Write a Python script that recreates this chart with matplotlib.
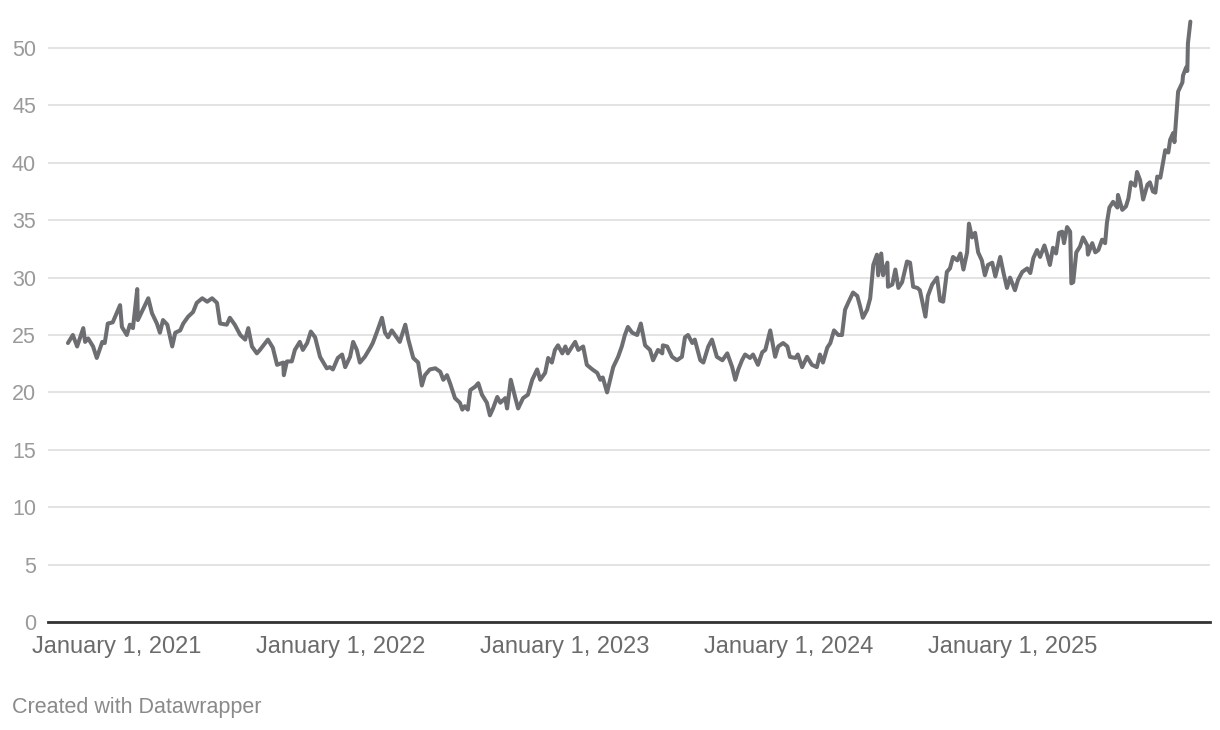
import matplotlib
matplotlib.use("Agg")
import matplotlib.pyplot as plt
import pandas as pd
from matplotlib.transforms import Bbox, TransformedBbox

# ---- data ----
base_date = "2021-01-01"
day_offsets = [
    -80, -72, -65, -55, -52, -47, -39, -33, -24, -20, -15, -7, 5, 8, 16, 21, 26, 33, 34, 42,
    51, 57, 65, 70, 75, 82, 90, 95, 103, 108, 116, 124, 130, 139, 147, 155, 163, 168, 179, 184,
    192, 201, 209, 214, 220, 228, 233, 246, 254, 261, 271, 272, 277, 285, 290, 298, 303, 310, 316, 323,
    331, 342, 347, 352, 360, 367, 372, 380, 385, 391, 396, 404, 413, 417, 424, 432, 437, 442, 448, 457,
    461, 470, 475, 483, 491, 497, 502, 510, 519, 527, 532, 538, 543, 551, 559, 563, 567, 572, 576, 584,
    589, 595, 603, 608, 613, 620, 625, 633, 636, 642, 649, 654, 662, 670, 677, 685, 690, 698, 703, 709,
    714, 719, 726, 731, 735, 742, 747, 752, 760, 766, 775, 783, 788, 792, 799, 804, 809, 817, 823, 828,
    833, 840, 848, 854, 861, 869, 874, 882, 889, 890, 897, 905, 913, 921, 926, 931, 938, 942, 951, 956,
    964, 970, 978, 987, 995, 1003, 1008, 1013, 1019, 1024, 1032, 1037, 1045, 1052, 1057, 1065, 1073, 1078, 1086, 1093,
    1097, 1106, 1110, 1117, 1125, 1133, 1141, 1146, 1151, 1158, 1163, 1169, 1176, 1182, 1187, 1192, 1200, 1207, 1212, 1216,
    1223, 1228, 1233, 1239, 1241, 1246, 1249, 1256, 1257, 1264, 1269, 1274, 1280, 1288, 1293, 1298, 1305, 1309, 1313, 1318,
    1322, 1329, 1337, 1342, 1347, 1353, 1358, 1363, 1370, 1375, 1380, 1386, 1389, 1394, 1399, 1404, 1410, 1415, 1420, 1427,
    1432, 1440, 1445, 1451, 1456, 1464, 1469, 1476, 1484, 1489, 1494, 1500, 1505, 1512, 1516, 1521, 1526, 1531, 1536, 1541,
    1544, 1549, 1554, 1556, 1559, 1564, 1570, 1575, 1582, 1583, 1590, 1595, 1600, 1606, 1611, 1614, 1618, 1624, 1631, 1632,
    1639, 1645, 1649, 1653, 1660, 1663, 1668, 1673, 1680, 1684, 1689, 1693, 1696, 1701, 1706, 1709, 1714, 1717, 1722, 1724,
    1727, 1730, 1737, 1738, 1743, 1745, 1746, 1750,
]
values = [
    24.3, 25.0, 24.0, 25.6, 24.4, 24.7, 24.0, 23.0, 24.4, 24.3, 26.0, 26.1, 27.6, 25.7, 25.0, 25.9, 25.6, 29.0, 26.3, 27.2,
    28.2, 26.9, 26.0, 25.2, 26.3, 25.9, 24.0, 25.2, 25.4, 26.0, 26.6, 27.0, 27.8, 28.2, 27.9, 28.2, 27.8, 26.0, 25.9, 26.5,
    25.9, 25.0, 24.6, 25.6, 24.0, 23.4, 23.7, 24.6, 23.9, 22.4, 22.6, 21.5, 22.7, 22.7, 23.7, 24.4, 23.7, 24.3, 25.3, 24.8,
    23.1, 22.1, 22.2, 22.0, 23.0, 23.3, 22.2, 23.1, 24.4, 23.7, 22.6, 23.1, 23.9, 24.3, 25.3, 26.5, 25.2, 24.8, 25.4, 24.7,
    24.4, 25.9, 24.6, 23.0, 22.6, 20.6, 21.5, 22.0, 22.1, 21.8, 21.1, 21.5, 20.8, 19.5, 19.1, 18.5, 18.8, 18.5, 20.2, 20.5,
    20.8, 19.8, 19.1, 18.0, 18.6, 19.6, 19.1, 19.5, 18.6, 21.1, 19.6, 18.6, 19.5, 19.8, 21.1, 22.0, 21.1, 21.7, 23.0, 22.6,
    23.7, 24.1, 23.4, 24.0, 23.4, 24.0, 24.4, 23.7, 24.0, 22.4, 22.0, 21.7, 21.1, 21.3, 20.0, 21.1, 22.2, 23.1, 24.0, 25.0,
    25.7, 25.2, 25.0, 26.0, 24.1, 23.7, 22.8, 23.7, 23.4, 24.1, 24.0, 23.1, 22.8, 23.1, 24.8, 25.0, 24.3, 24.6, 22.8, 22.6,
    24.0, 24.6, 23.1, 22.8, 23.4, 22.2, 21.1, 22.0, 22.8, 23.3, 23.0, 23.3, 22.4, 23.5, 23.7, 25.4, 23.1, 24.0, 24.3, 24.0,
    23.1, 23.0, 23.3, 22.2, 23.1, 22.4, 22.2, 23.3, 22.6, 23.9, 24.3, 25.4, 25.0, 25.0, 27.2, 27.8, 28.7, 28.4, 27.4, 26.5,
    27.2, 28.2, 31.1, 32.0, 30.2, 32.1, 30.2, 31.3, 29.2, 29.4, 30.7, 29.1, 29.6, 31.4, 31.3, 29.2, 29.1, 28.9, 27.9, 26.6,
    28.4, 29.4, 30.0, 28.0, 27.9, 30.5, 30.8, 31.8, 31.5, 32.1, 30.7, 32.2, 34.7, 33.5, 33.9, 32.2, 31.5, 30.2, 31.1, 31.3,
    30.1, 31.8, 30.5, 29.1, 30.0, 28.9, 29.8, 30.5, 30.8, 30.4, 31.7, 32.4, 31.8, 32.8, 32.1, 31.1, 32.6, 32.1, 33.9, 34.0,
    33.0, 34.4, 34.0, 29.5, 29.6, 32.2, 32.7, 33.5, 32.8, 32.0, 33.0, 32.2, 32.4, 33.3, 33.0, 34.8, 36.1, 36.6, 36.1, 37.2,
    35.9, 36.2, 36.9, 38.3, 38.0, 39.2, 38.5, 36.8, 38.1, 38.3, 37.5, 37.4, 38.8, 38.7, 40.2, 41.1, 40.9, 42.0, 42.6, 41.8,
    44.0, 46.2, 47.0, 47.6, 48.3, 48.0, 50.4, 52.3,
]
y_ticks = [0, 5, 10, 15, 20, 25, 30, 35, 40, 45, 50]
x_tick_dates = ["2021-01-01", "2022-01-01", "2023-01-01", "2024-01-01", "2025-01-01"]
x_tick_labels = ["January 1, 2021", "January 1, 2022", "January 1, 2023",
                 "January 1, 2024", "January 1, 2025"]
footer = "Created with Datawrapper"

# ---- figure ----
plt.rcParams["font.family"] = ["Liberation Sans", "DejaVu Sans"]
W, H = 1220, 730
fig = plt.figure(figsize=(W / 100, H / 100), dpi=100)
ax = fig.add_axes([48 / W, (H - 622) / H, (1210 - 48) / W, (622 - 10) / H])

dates = pd.Timestamp(base_date) + pd.to_timedelta(day_offsets, unit="D")
ax.plot(dates, values, color="#6d6e71", lw=2.9, solid_joinstyle="round",
        solid_capstyle="round", zorder=3)

x0 = pd.Timestamp(base_date) + pd.Timedelta(days=-112.5)
x1 = pd.Timestamp(base_date) + pd.Timedelta(days=1782)
ax.set_xlim(x0, x1)
ax.set_ylim(0, 612 / 11.48)

for s in ax.spines.values():
    s.set_visible(False)

ax.set_yticks(y_ticks)
ax.set_yticklabels([str(v) for v in y_ticks])
ax.yaxis.grid(True, color="#e3e3e3", lw=1.4)
ax.set_axisbelow(True)
ax.tick_params(axis="y", length=0, pad=8.6, labelsize=15.5, labelcolor="#9a9a9a")
ax.axhline(0, color="#333333", lw=2.0, zorder=4, clip_on=False)

ax.set_xticks(pd.to_datetime(x_tick_dates))
ax.set_xticklabels(x_tick_labels)
ax.tick_params(axis="x", length=0, pad=10, labelsize=17, labelcolor="#6b6b6b")

clip = TransformedBbox(Bbox([[0, (H - 658) / H], [1, 1]]), fig.transFigure)
for lbl in ax.get_xticklabels():
    lbl.set_clip_box(clip)
    lbl.set_clip_on(True)

fig.text(12 / W, (H - 713) / H, footer, fontsize=15.5, color="#8a8a8a",
         ha="left", va="baseline")

fig.savefig("out.png", dpi=100)
